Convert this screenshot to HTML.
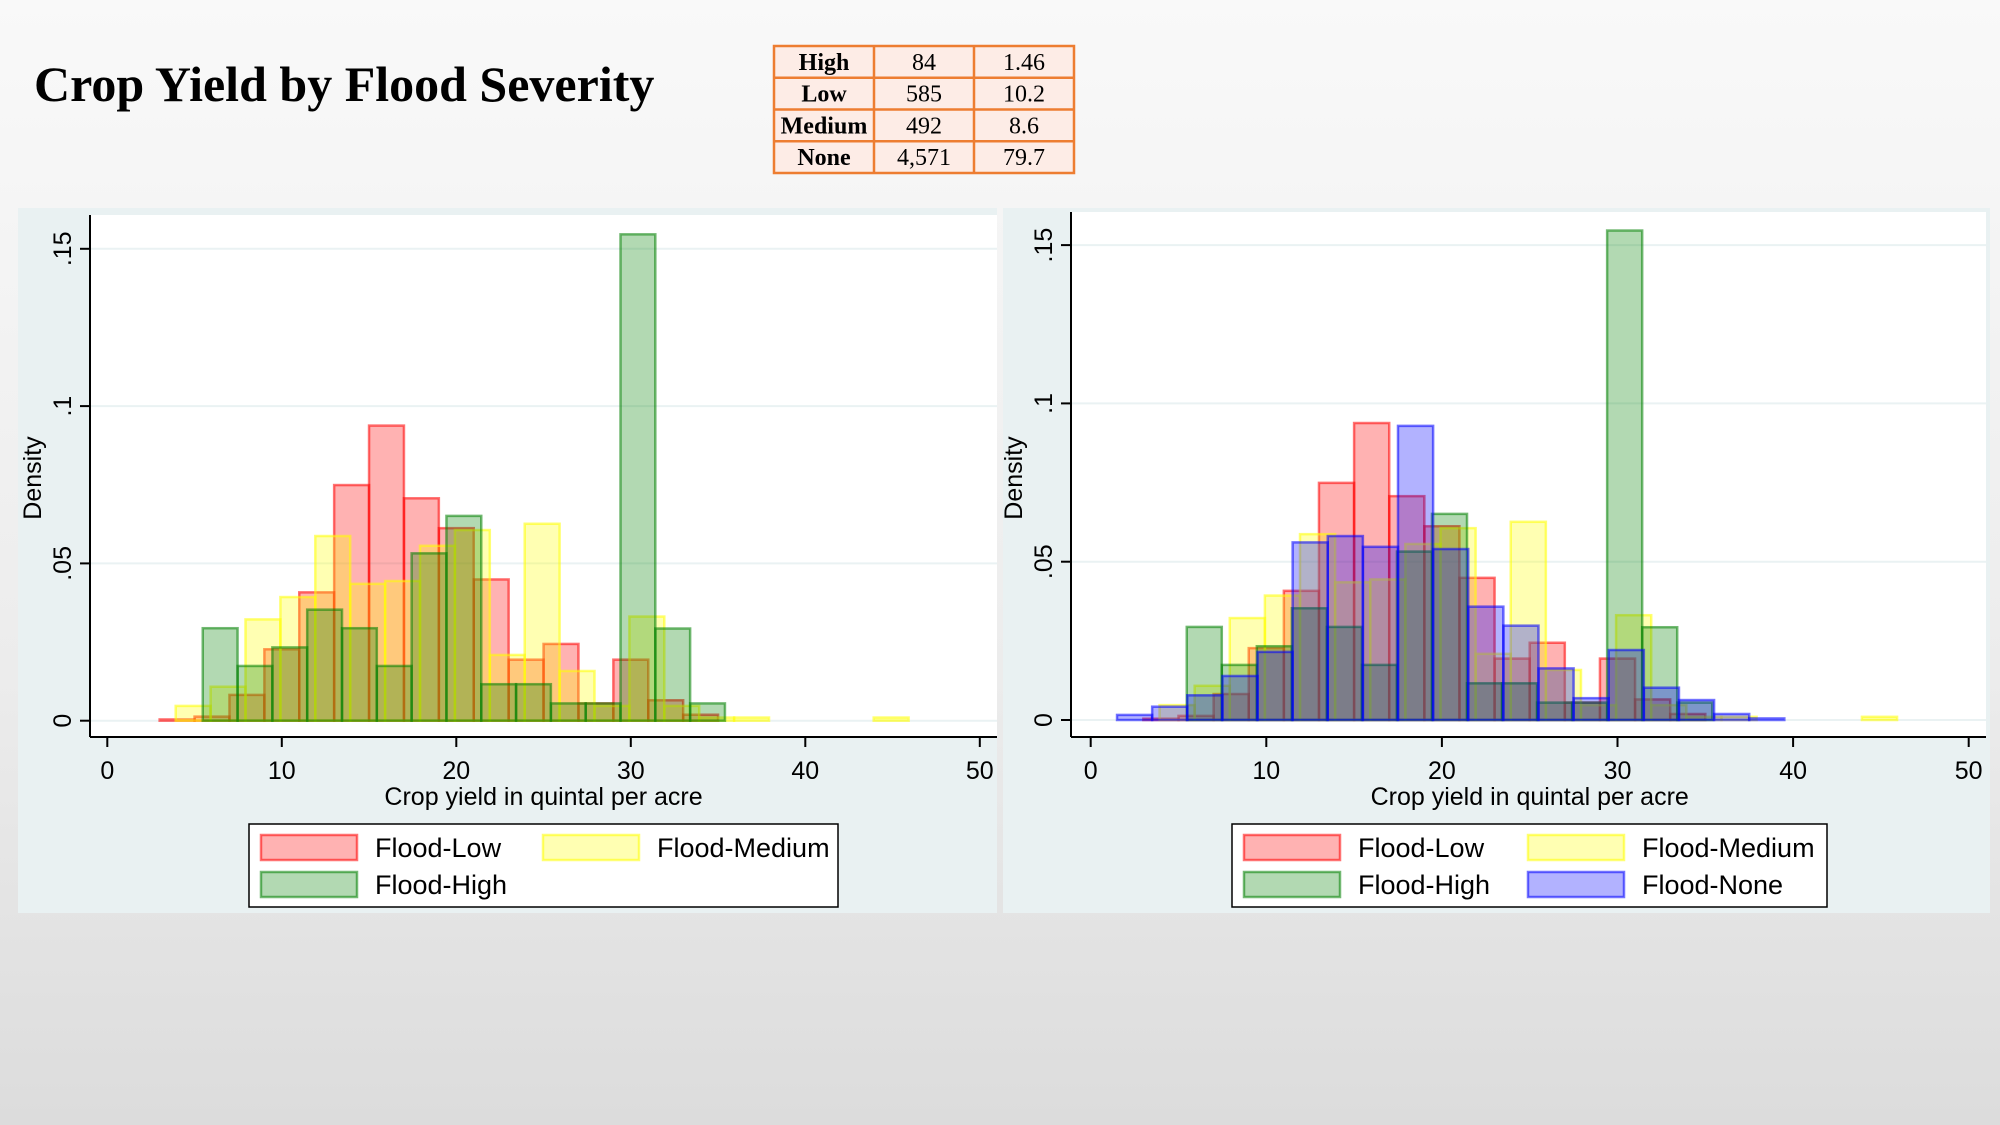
<!DOCTYPE html>
<html><head><meta charset="utf-8"><style>
html,body{margin:0;padding:0;width:2000px;height:1125px;overflow:hidden;background:#e2e2e2}
svg{display:block}
</style></head><body>
<svg id="root" width="2000" height="1125" viewBox="0 0 2000 1125" xmlns="http://www.w3.org/2000/svg">
<defs><linearGradient id="bg" x1="0" y1="0" x2="0" y2="1"><stop offset="0" stop-color="#f9f9f9"/><stop offset="0.6" stop-color="#ececec"/><stop offset="1" stop-color="#dcdcdc"/></linearGradient></defs>
<rect width="2000" height="1125" fill="url(#bg)"/>
<text x="34" y="101" font-family="Liberation Serif, serif" font-weight="bold" font-size="50" fill="#000">Crop Yield by Flood Severity</text>
<g id="table"></g>
<g id="panelL"></g>
<g id="panelR"></g>
</svg>
<script>
// Table data
const tblLabels = ["High","Low","Medium","None"];
const tblFreq = ["84","585","492","4,571"];
const tblPct = ["1.46","10.2","8.6","79.7"];
// Histogram data (density per 2-unit bin)
const binWidth = 2;
const lowStart = 3.0;
const lowDensity = [0.0004,0.0013,0.0082,0.0227,0.0408,0.0749,0.0938,0.0707,0.0612,0.0449,0.0194,0.0244,0.0055,0.0194,0.0065,0.0019];
const medStart = 3.92;
const medDensity = [0.0047,0.0108,0.0322,0.0393,0.0587,0.0435,0.0444,0.0556,0.0606,0.0209,0.0626,0.0158,0.0047,0.0331,0.0047,0.001,0.001,0,0,0,0.001];
const highStart = 5.47;
const highDensity = [0.0294,0.0174,0.0233,0.0353,0.0294,0.0174,0.0532,0.0651,0.0116,0.0116,0.0055,0.0055,0.1546,0.0293,0.0055];
const noneStart = 1.5;
const noneDensity = [0.0016,0.0042,0.0078,0.0139,0.0215,0.0561,0.0581,0.0547,0.0929,0.054,0.0358,0.0298,0.0163,0.0069,0.0221,0.0102,0.0063,0.0019,0.0005];
const xTicks = [0,10,20,30,40,50];
const yTicks = [0,0.05,0.1,0.15];
const yTickLabels = ["0",".05",".1",".15"];

const NS = "http://www.w3.org/2000/svg";
function mk(tag, attrs, parent){const e=document.createElementNS(NS,tag);for(const k in attrs)e.setAttribute(k,attrs[k]);parent.appendChild(e);return e;}

// table
(function(){
  const g=document.getElementById('table');
  const x0=774,y0=46,rh=31.75;
  mk('rect',{x:x0,y:y0,width:300,height:rh*4,fill:'#fdece6'},g);
  for(let i=0;i<tblLabels.length;i++){
    const cy=y0+rh*i+rh/2+8;
    const t1=mk('text',{x:x0+50,y:cy,'text-anchor':'middle','font-family':'Liberation Serif, serif','font-size':24,'font-weight':'bold'},g);t1.textContent=tblLabels[i];
    
    
    const t2=mk('text',{x:x0+150,y:cy,'text-anchor':'middle','font-family':'Liberation Serif, serif','font-size':24},g);t2.textContent=tblFreq[i];
    
    
    const t3=mk('text',{x:x0+250,y:cy,'text-anchor':'middle','font-family':'Liberation Serif, serif','font-size':24},g);t3.textContent=tblPct[i];
    
    
  }
  for(let i=1;i<4;i++)mk('line',{x1:x0,x2:x0+300,y1:y0+rh*i,y2:y0+rh*i,stroke:'#ed7d31','stroke-width':2.5},g);
  for(let i=1;i<3;i++)mk('line',{x1:x0+100*i,x2:x0+100*i,y1:y0,y2:y0+rh*4,stroke:'#ed7d31','stroke-width':2.5},g);
  mk('rect',{x:x0,y:y0,width:300,height:rh*4,fill:'none',stroke:'#ed7d31','stroke-width':2.5},g);
})();

const seriesDefs = [
  {name:'Flood-Low',start:lowStart,dens:lowDensity,w:2.0,color:'#ff0000'},
  {name:'Flood-Medium',start:medStart,dens:medDensity,w:2.0,color:'#ffff00'},
  {name:'Flood-High',start:highStart,dens:highDensity,w:1.995,color:'#008000'},
  {name:'Flood-None',start:noneStart,dens:noneDensity,w:2.0,color:'#0000ff'}
];

function drawPanel(gid,cfg,series){
  const g=document.getElementById(gid);
  mk('rect',{x:cfg.px,y:208,width:cfg.pw,height:705,fill:'#e9f1f2'},g);
  mk('rect',{x:cfg.ax,y:cfg.top,width:cfg.right-cfg.ax,height:737-cfg.top,fill:'#ffffff'},g);
  const X=v=>cfg.x0+v*cfg.sx, Y=v=>cfg.y0-v*cfg.sy;
  yTicks.forEach((t,i)=>{
    if(i>0){const gl=mk('line',{x1:cfg.ax,x2:cfg.right,y1:Y(t),y2:Y(t),stroke:'#eaf2f3','stroke-width':2},g);
      
      }
  });
  mk('line',{x1:cfg.ax,x2:cfg.right,y1:Y(0),y2:Y(0),stroke:'#eaf2f3','stroke-width':2},g);
  series.forEach(s=>{
    s.dens.forEach((d,i)=>{
      if(d<=0)return;
      const x1=X(s.start+i*s.w),x2=X(s.start+(i+1)*s.w);
      const r=mk('rect',{x:x1,y:Y(d),width:x2-x1,height:Y(0)-Y(d),fill:s.color,'fill-opacity':0.3,stroke:s.color,'stroke-opacity':0.55,'stroke-width':2.5},g);
      
      
    });
  });
  mk('line',{x1:cfg.ax,x2:cfg.ax,y1:cfg.top,y2:737,stroke:'#000','stroke-width':2},g);
  mk('line',{x1:cfg.ax,x2:cfg.right,y1:737,y2:737,stroke:'#000','stroke-width':2},g);
  yTicks.forEach((t,i)=>{
    mk('line',{x1:cfg.ax-10,x2:cfg.ax,y1:Y(t),y2:Y(t),stroke:'#000','stroke-width':2},g);
    const tx=mk('text',{x:0,y:0,transform:`translate(${cfg.ax-19},${Y(t)}) rotate(-90)`,'text-anchor':'middle','font-family':'Liberation Sans, sans-serif','font-size':25},g);
    tx.textContent=yTickLabels[i];
    
    
  });
  xTicks.forEach(t=>{
    mk('line',{x1:X(t),x2:X(t),y1:737,y2:747,stroke:'#000','stroke-width':2},g);
    const tx=mk('text',{x:X(t),y:779,'text-anchor':'middle','font-family':'Liberation Sans, sans-serif','font-size':25},g);
    tx.textContent=String(t);
    
    
  });
  const yt=mk('text',{x:0,y:0,transform:`translate(${cfg.ax-49},478) rotate(-90)`,'text-anchor':'middle','font-family':'Liberation Sans, sans-serif','font-size':25},g);
  yt.textContent='Density';
  
  
  const xt=mk('text',{x:(X(0)+X(50))/2,y:805,'text-anchor':'middle','font-family':'Liberation Sans, sans-serif','font-size':25},g);
  xt.textContent='Crop yield in quintal per acre';
  
  
  const lg=mk('g',{},g);
  
  
  mk('rect',{x:cfg.lx,y:824,width:cfg.lw,height:83,fill:'#fff',stroke:'#000','stroke-width':1.5},lg);
  series.forEach((s,i)=>{
    const col=i%2,row=Math.floor(i/2);
    const sx=cfg.lx+(col?cfg.c2:12), sy=835+row*37;
    const sw=mk('rect',{x:sx,y:sy,width:96,height:25,fill:s.color,'fill-opacity':0.3,stroke:s.color,'stroke-opacity':0.55,'stroke-width':2.5},lg);
    
    
    const lt=mk('text',{x:sx+114,y:sy+22,'font-family':'Liberation Sans, sans-serif','font-size':27},lg);
    lt.textContent=s.name;
    
    
  });
}
drawPanel('panelL',{px:18,pw:979,ax:90,top:215,right:997,x0:107.3,sx:17.45,y0:720.7,sy:3146,lx:249,lw:589,c2:294},seriesDefs.slice(0,3));
drawPanel('panelR',{px:1003,pw:987,ax:1071,top:212,right:1986,x0:1090.7,sx:17.56,y0:720,sy:3166,lx:1232,lw:595,c2:296},seriesDefs);
</script>
</body></html>
